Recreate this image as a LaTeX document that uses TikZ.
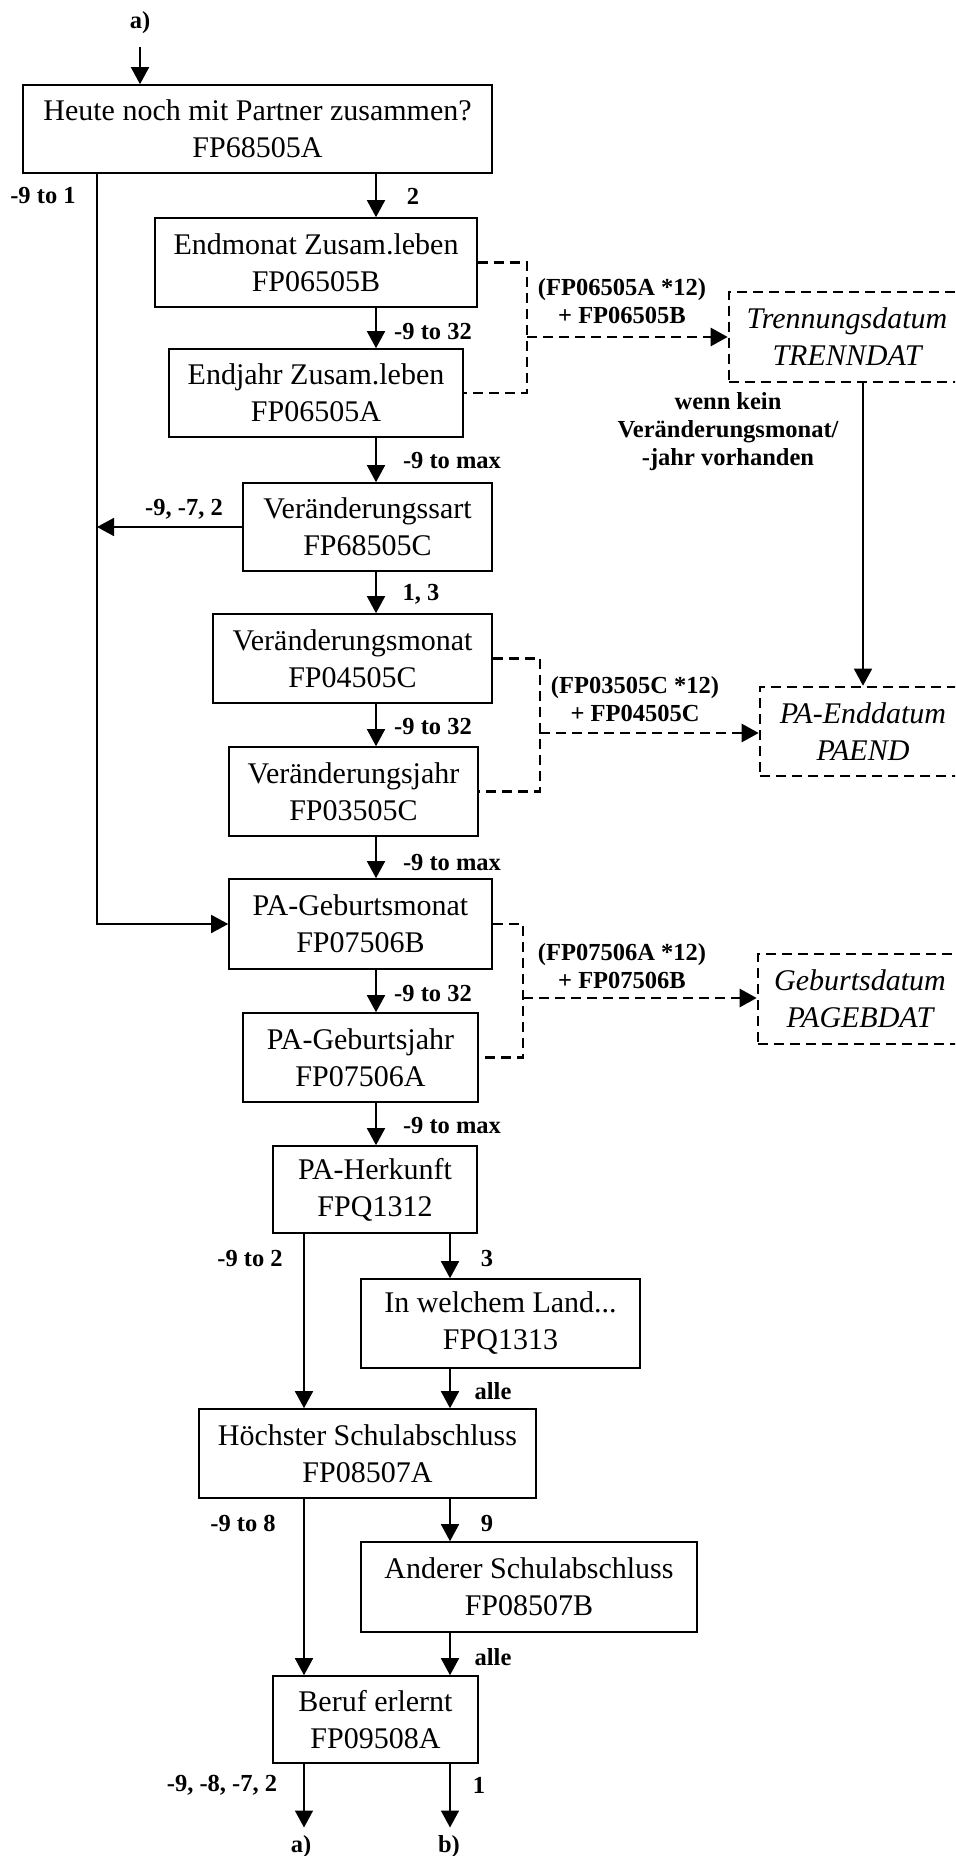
\documentclass[tikz,border=0pt]{standalone}
\usepackage{fontspec}
\setmainfont{Liberation Serif}
\usetikzlibrary{arrows.meta,positioning,calc}

\begin{document}
\begin{tikzpicture}[
  x=0.5pt, y=-0.5pt,
  box/.style={draw, line width=0.8pt, align=center, inner sep=0pt, minimum height=44pt, font=\fontsize{15}{18.5}\selectfont},
  res/.style={draw, line width=1.3pt, dash pattern=on 5pt off 3pt, align=center, inner sep=0pt, minimum height=45pt, font=\fontsize{15}{18.5}\selectfont\itshape},
  lab/.style={align=center, inner sep=1pt, font=\fontsize{12.25}{14}\selectfont\bfseries},
  arr/.style={-{Triangle[length=8.5pt,width=9pt]}, line width=0.8pt},
  dline/.style={line width=1.3pt, dash pattern=on 5pt off 3pt},
  darr/.style={dline, -{Triangle[length=8.5pt,width=9pt]}},
]
\useasboundingbox (0,0) rectangle (955,1856);
\clip (0,0) rectangle (955,1856);

\coordinate (main) at (376,0);
\coordinate (lft) at (97,0);
\coordinate (lcol) at (304,0);
\coordinate (rcol) at (450,0);

\node[box, minimum width=234.5pt] (heute) at (257.5,129) {Heute noch mit Partner zusammen?\\FP68505A};
\node[box, minimum width=161pt, minimum height=44.5pt] (endmonat) at (316,262.5) {Endmonat Zusam.leben\\FP06505B};
\node[box, minimum width=147pt] (endjahr) at (316,393) {Endjahr Zusam.leben\\FP06505A};
\node[box, minimum width=124.5pt] (vart) at (367.5,527) {Veränderungssart\\FP68505C};
\node[box, minimum width=139.5pt, minimum height=44.5pt] (vmonat) at (352.5,658.5) {Veränderungsmonat\\FP04505C};
\node[box, minimum width=124.5pt, minimum height=44.5pt] (vjahr) at (353.5,791.5) {Veränderungsjahr\\FP03505C};
\node[box, minimum width=131.5pt, minimum height=45pt] (gebmonat) at (360.5,924) {PA-Geburtsmonat\\FP07506B};
\node[box, minimum width=117.5pt, minimum height=44.5pt] (gebjahr) at (360.5,1057.5) {PA-Geburtsjahr\\FP07506A};
\node[box, minimum width=102pt, minimum height=43.5pt] (herkunft) at (375,1189.5) {PA-Herkunft\\FPQ1312};
\node[box, minimum width=139.5pt, minimum height=44.5pt] (land) at (500.5,1323.5) {In welchem Land...\\FPQ1313};
\node[box, minimum width=168.5pt, minimum height=44.5pt] (schule) at (367.5,1453.5) {Höchster Schulabschluss\\FP08507A};
\node[box, minimum width=168pt, minimum height=45pt] (anderer) at (529,1587) {Anderer Schulabschluss\\FP08507B};
\node[box, minimum width=102.5pt, minimum height=43.5pt] (beruf) at (375.5,1719.5) {Beruf erlernt\\FP09508A};

\node[res, minimum width=118pt] (trenn) at (847,337) {Trennungsdatum\\TRENNDAT};
\node[res, minimum width=103pt, minimum height=44.5pt] (paend) at (863,731.5) {PA-Enddatum\\PAEND};
\node[res, minimum width=102pt] (gebdat) at (860,999) {Geburtsdatum\\PAGEBDAT};

\node[lab] (atop) at (140,23) {a)};
\node[lab] (aend) at (301,1847) {a)};
\node[lab] (bend) at (449,1847) {b)};

\draw[arr, shorten <=5pt] (atop.south) -- (atop.south |- heute.north);
\foreach \a/\b in {heute/endmonat, endmonat/endjahr, endjahr/vart, vart/vmonat, vmonat/vjahr, vjahr/gebmonat, gebmonat/gebjahr, gebjahr/herkunft}
  \draw[arr] (\a.south -| main) -- (\b.north -| main);
\draw[arr] (heute.south -| lft) |- (gebmonat.west);
\draw[arr] (vart.west) -- (vart.west -| lft);
\foreach \a/\b in {herkunft/schule, schule/beruf}
  \draw[arr] (\a.south -| lcol) -- (\b.north -| lcol);
\foreach \a/\b in {herkunft/land, land/schule, schule/anderer, anderer/beruf}
  \draw[arr] (\a.south -| rcol) -- (\b.north -| rcol);
\draw[arr, shorten >=3pt] (beruf.south -| lcol) -- (aend.north -| lcol);
\draw[arr, shorten >=3pt] (beruf.south -| rcol) -- (bend.north -| rcol);

\coordinate (b1) at (527,337);
\coordinate (b2) at (540,733);
\coordinate (b3) at (523,998);
\draw[dline] (endmonat.east) -| (b1) |- (endjahr.east);
\draw[darr] (b1) -- (b1 -| trenn.west);
\draw[dline] (vmonat.east) -| (b2) |- (vjahr.east);
\draw[darr] (b2) -- (b2 -| paend.west);
\draw[dline] (gebmonat.east) -| (b3) |- (gebjahr.east);
\draw[darr] (b3) -- (b3 -| gebdat.west);
\draw[arr] (trenn.south -| paend.north) -- (paend.north);

\node[lab] at (43,196) {-9 to 1};
\node[lab] at (413,196) {2};
\node[lab] at (433,332) {-9 to 32};
\node[lab] at (452,461) {-9 to max};
\node[lab] at (184,509) {-9, -7, 2};
\node[lab] at (421,594) {1, 3};
\node[lab] at (433,727) {-9 to 32};
\node[lab] at (452,863) {-9 to max};
\node[lab] at (433,993) {-9 to 32};
\node[lab] at (452,1125) {-9 to max};
\node[lab] at (250,1258) {-9 to 2};
\node[lab] at (487,1258) {3};
\node[lab] at (493,1391) {alle};
\node[lab] at (243,1523) {-9 to 8};
\node[lab] at (487,1523) {9};
\node[lab] at (493,1657) {alle};
\node[lab] at (222,1785) {-9, -8, -7, 2};
\node[lab] at (479,1785) {1};

\node[lab] (f1) at (622,301) {(FP06505A *12)\\+ FP06505B};
\node[lab] (f2) at (635,699) {(FP03505C *12)\\+ FP04505C};
\node[lab] (f3) at (622,966) {(FP07506A *12)\\+ FP07506B};
\node[lab] (hint) at (728,432) {wenn kein\\Veränderungsmonat/\\-jahr vorhanden};
\end{tikzpicture}
\end{document}
